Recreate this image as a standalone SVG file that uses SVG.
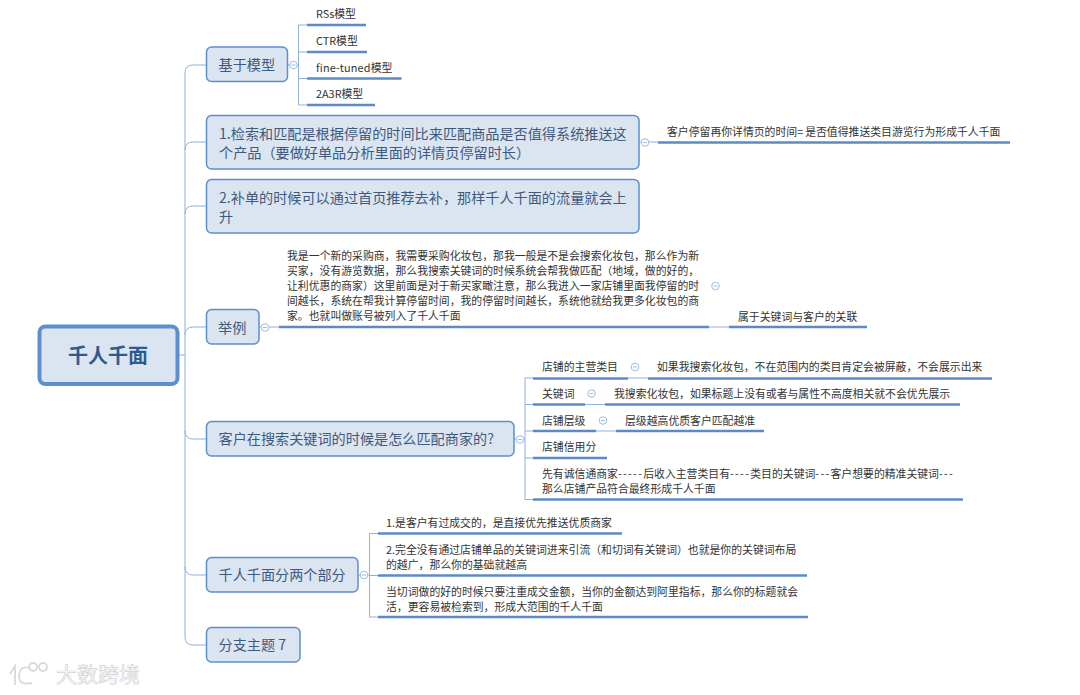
<svg xmlns="http://www.w3.org/2000/svg" width="1080" height="695" viewBox="0 0 1080 695">
<style>
text{font-family:"Noto Sans CJK SC","Liberation Sans",sans-serif}
.n rect{fill:#dbe5f2;stroke:#5d8fd0;stroke-width:1.5}
.n text{font-size:14.15px;fill:#3f5a7c}
.t{font-size:10.85px;fill:#333}
.d{letter-spacing:1.3px}
.u{stroke:#5d8ac6;stroke-width:2.5;fill:none}
.l{stroke:#8fb1dd;stroke-width:1;fill:none}
.c{fill:#fff;stroke:#9dbbe2;stroke-width:1}
.m{stroke:#9dbbe2;stroke-width:1}
</style>
<defs><g id="col"><circle class="c" r="3.8"/><line class="m" x1="-2" x2="2"/></g></defs>
<g id="connectors">
<path class="l" d="M177 355H185"/>
<path class="l" d="M206 65H193Q185 65 185 73V637Q185 645 193 645H206M185 150Q185 142 193 142H206M185 214Q185 206 193 206H206M185 335Q185 327 193 327H206M185 431Q185 439 193 439H206M185 567Q185 575 193 575H206"/>
<path class="l" d="M287 65H290M297 65H298.5M307 25H298.5V105H307M298.5 52H307M298.5 78.500H307"/>
<path class="l" d="M639 142H641M649 142H658"/>
<path class="l" d="M259 327H261M269 327H279M709 327H729"/>
<path class="l" d="M514 439H516M524 439H525M533 378H525V499.500H533M525 404.500H533M525 431H533M525 458H533M628 378H648M585 404.500H605M596 431H616"/>
<path class="l" d="M358 575H360M368 575H369.500M378 533.500H369.500V617H378M369.500 575.500H378"/>
</g>
<g id="root" class="n"><rect x="39.500" y="326.500" width="138" height="57.500" rx="6" style="stroke-width:4"/><text x="108" y="363" text-anchor="middle" style="font-size:20px;font-weight:700;fill:#2f5a8e">千人千面</text></g>
<g id="n1" class="n"><rect x="206.500" y="47" width="81" height="34.500" rx="5"/><text x="218.500" y="70">基于模型</text></g>
<g id="n2" class="n"><rect x="206.500" y="115.500" width="432.500" height="53.500" rx="5"/><text x="219" y="138.500">1.检索和匹配是根据停留的时间比来匹配商品是否值得系统推送这</text><text x="219" y="158">个产品（要做好单品分析里面的详情页停留时长）</text></g>
<g id="n3" class="n"><rect x="206.500" y="179.500" width="432.500" height="53.500" rx="5"/><text x="219" y="203">2.补单的时候可以通过首页推荐去补，那样千人千面的流量就会上</text><text x="219" y="222">升</text></g>
<g id="n4" class="n"><rect x="206.500" y="309.500" width="52.500" height="34.500" rx="5"/><text x="218" y="332.500">举例</text></g>
<g id="n5" class="n"><rect x="206.500" y="421.500" width="307.500" height="34.500" rx="5"/><text x="218.500" y="444">客户在搜索关键词的时候是怎么匹配商家的?</text></g>
<g id="n6" class="n"><rect x="206.500" y="557.500" width="151.500" height="34.500" rx="5"/><text x="218.500" y="580">千人千面分两个部分</text></g>
<g id="n7" class="n"><rect x="206.500" y="627.500" width="93.500" height="34.500" rx="5"/><text x="218.500" y="650">分支主题 7</text></g>
<g id="collapsers">
<use href="#col" x="293.500" y="65"/><use href="#col" x="645" y="142.500"/><use href="#col" x="265" y="327.500"/><use href="#col" x="715.500" y="286"/><use href="#col" x="520" y="439.500"/><use href="#col" x="635" y="367"/><use href="#col" x="591.500" y="393.500"/><use href="#col" x="603" y="420.500"/><use href="#col" x="364" y="575"/>
</g>
<g id="s1"><line class="u" x1="307" x2="366" y1="25" y2="25"/><text class="t" x="316" y="18">RSs模型</text></g>
<g id="s2"><line class="u" x1="307" x2="367" y1="52" y2="52"/><text class="t" x="316" y="45">CTR模型</text></g>
<g id="s3"><line class="u" x1="307" x2="401.500" y1="78.500" y2="78.500"/><text class="t" x="316" y="71.500"><tspan style="letter-spacing:.2px">fine-tuned</tspan>模型</text></g>
<g id="s4"><line class="u" x1="307" x2="375" y1="105" y2="105"/><text class="t" x="316" y="98">2A3R模型</text></g>
<g id="s5"><line class="u" x1="658" x2="1010" y1="142.500" y2="142.500"/><text class="t" x="667" y="135.500">客户停留再你详情页的时间<tspan style="letter-spacing:2px">=</tspan>是否值得推送类目游览行为形成千人千面</text></g>
<g id="s6"><line class="u" x1="279" x2="709" y1="327" y2="327"/>
<text class="t" x="287" y="260">我是一个新的采购商，我需要采购化妆包，那我一般是不是会搜索化妆包，那么作为新</text>
<text class="t" x="287" y="275">买家，没有游览数据，那么我搜索关键词的时候系统会帮我做匹配（地域，做的好的，</text>
<text class="t" x="287" y="290">让利优惠的商家）这里前面是对于新买家瞰注意，那么我进入一家店铺里面我停留的时</text>
<text class="t" x="287" y="305">间越长，系统在帮我计算停留时间，我的停留时间越长，系统他就给我更多化妆包的商</text>
<text class="t" x="287" y="319.500">家。也就叫做账号被列入了千人千面</text></g>
<g id="s7"><line class="u" x1="729" x2="867" y1="327" y2="327"/><text class="t" x="738" y="320.500">属于关键词与客户的关联</text></g>
<g id="s8"><line class="u" x1="533" x2="628" y1="378.500" y2="378.500"/><text class="t" x="542" y="371">店铺的主营类目</text></g>
<g id="s9"><line class="u" x1="648" x2="992" y1="378.500" y2="378.500"/><text class="t" x="657" y="371">如果我搜索化妆包，不在范围内的类目肯定会被屏蔽，不会展示出来</text></g>
<g id="s10"><line class="u" x1="533" x2="585" y1="404.500" y2="404.500"/><text class="t" x="542" y="398">关键词</text></g>
<g id="s11"><line class="u" x1="605" x2="960" y1="404.500" y2="404.500"/><text class="t" x="614" y="398">我搜索化妆包，如果标题上没有或者与属性不高度相关就不会优先展示</text></g>
<g id="s12"><line class="u" x1="533" x2="596" y1="431" y2="431"/><text class="t" x="542" y="424.500">店铺层级</text></g>
<g id="s13"><line class="u" x1="616" x2="764" y1="431" y2="431"/><text class="t" x="625" y="424.500">层级越高优质客户匹配越准</text></g>
<g id="s14"><line class="u" x1="533" x2="607" y1="458" y2="458"/><text class="t" x="542" y="451">店铺信用分</text></g>
<g id="s15"><line class="u" x1="533" x2="963" y1="499.500" y2="499.500"/><text class="t" x="542" y="478">先有诚信通商家<tspan class="d">-----</tspan>后收入主营类目有<tspan class="d">----</tspan>类目的关键词<tspan class="d">---</tspan>客户想要的精准关键词<tspan class="d">---</tspan></text><text class="t" x="542" y="492.500">那么店铺产品符合最终形成千人千面</text></g>
<g id="s16"><line class="u" x1="378" x2="622" y1="533.500" y2="533.500"/><text class="t" x="386" y="527">1.是客户有过成交的，是直接优先推送优质商家</text></g>
<g id="s17"><line class="u" x1="378" x2="807" y1="575.500" y2="575.500"/><text class="t" x="386" y="554">2.完全没有通过店铺单品的关键词进来引流（和切词有关键词）也就是你的关键词布局</text><text class="t" x="386" y="569">的越广，那么你的基础就越高</text></g>
<g id="s18"><line class="u" x1="378" x2="808" y1="617" y2="617"/><text class="t" x="386" y="596">当切词做的好的时候只要注重成交金额，当你的金额达到阿里指标，那么你的标题就会</text><text class="t" x="386" y="611">活，更容易被检索到，形成大范围的千人千面</text></g>
<g id="watermark" fill="none" stroke="#d9d9d9" stroke-width="1.800">
<path d="M10 674L15 666V685M31 669Q21 664 19 675Q18 686 32 683"/><circle cx="33" cy="667" r="4"/><circle cx="43" cy="667" r="4"/>
<text x="56" y="682" style="font-size:21px;fill:#fff;stroke:#d4d4d4;stroke-width:.7">大数跨境</text></g>
</svg>
